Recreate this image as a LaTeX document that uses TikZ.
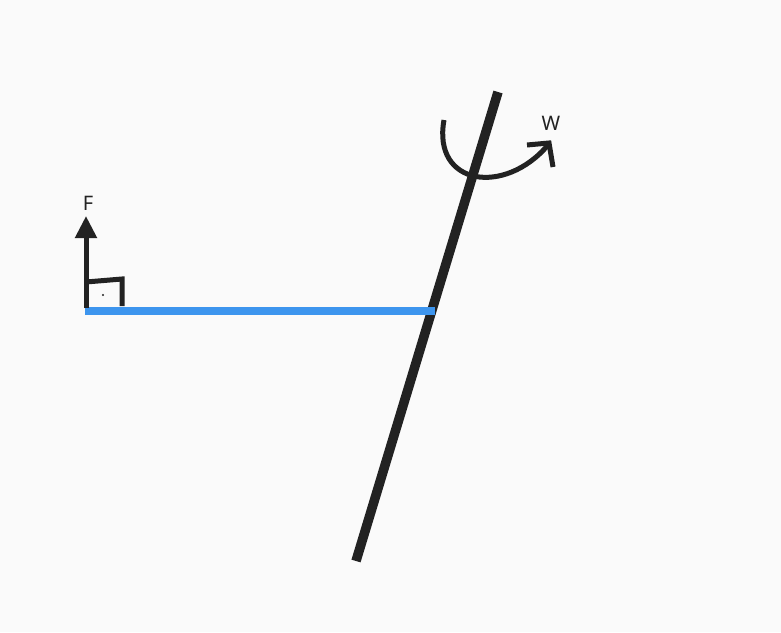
\documentclass[tikz,border=0pt]{standalone}
\usepackage{fontspec}
\setmainfont{Noto Sans}
\usetikzlibrary{arrows.meta}
\definecolor{bg}{HTML}{FAFAFA}
\definecolor{ink}{HTML}{222222}
\definecolor{armblue}{HTML}{3D95EE}
\tikzset{
  ink line/.style={draw=ink, line width=5pt},
  lbl/.style={font=\fontsize{20}{22}\selectfont, text=ink, inner sep=0pt}
}
\begin{document}
\begin{tikzpicture}[x=1pt,y=-1pt]
\fill[bg] (0,0) rectangle (781,632);
\useasboundingbox (0,0) rectangle (781,632);
% axis
\coordinate (top) at (498,92);
\coordinate (bot) at (356,561);
\draw[draw=ink, line width=9.5pt] (top) -- (bot);
% arm
\coordinate (armL) at (85,311);
\coordinate (armR) at (435,311);
\draw[draw=armblue, line width=7.5pt] (armL) -- (armR);
% force
\coordinate (fbase) at (86,308);
\coordinate (ftip) at (86,216);
\draw[ink line, -{Triangle[length=22pt,width=21pt]}] (fbase) -- (ftip);
\node[lbl] (F) at (88,203) {F};
% right angle mark
\coordinate (ra1) at (86,282);
\coordinate (ra2) at (122,279);
\coordinate (ra3) at (122,306);
\draw[ink line, line join=miter] (ra1) -- (ra2) -- (ra3);
\fill[ink] (103,295) circle (1.2);
% rotation arc
\coordinate (arcS) at (444,120);
\coordinate (arcE) at (548,145);
\draw[ink line] (arcS) .. controls (432,186) and (505,196) .. (arcE);
\draw[ink line, line join=miter] (527,145) -- (549,143) -- (553,167);
\node[lbl] (W) at (551,123) {W};
\end{tikzpicture}
\end{document}
